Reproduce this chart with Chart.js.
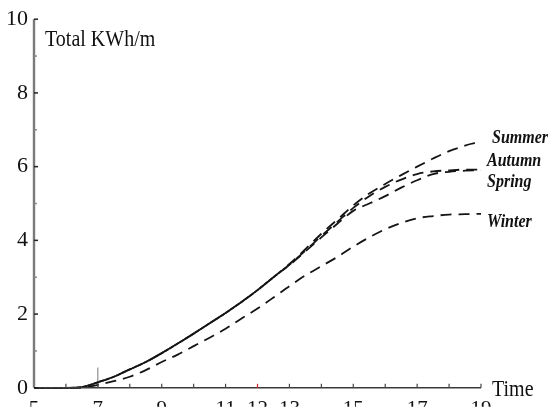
<!DOCTYPE html>
<html>
<head>
<meta charset="utf-8">
<script src="https://cdn.jsdelivr.net/npm/chart.js@4.4.1/dist/chart.umd.min.js"></script>
<style>
  html, body { margin: 0; padding: 0; background: #fff; }
  #wrap { width: 550px; height: 407px; position: relative; }
</style>
</head>
<body>
<div id="wrap"><canvas id="c" width="550" height="407"></canvas></div>
<script>
// ---- data ----
const hours = [5, 5.5, 6, 6.5, 7, 7.5, 8, 8.5, 9, 9.5, 10, 10.5, 11, 11.5, 12, 12.5, 13,
               13.5, 14, 14.5, 15, 15.5, 16, 16.5, 17, 17.5, 18, 18.5, 19];
const summer = [0, 0, 0, 0.02, 0.15, 0.3, 0.5, 0.7, 0.94, 1.2, 1.47, 1.75, 2.03, 2.33, 2.65, 3.0, 3.36,
                3.76, 4.18, 4.56, 4.95, 5.27, 5.53, 5.77, 6.0, 6.22, 6.42, 6.57, 6.7];
const autumn = [0, 0, 0, 0.02, 0.15, 0.3, 0.5, 0.7, 0.94, 1.2, 1.47, 1.75, 2.03, 2.33, 2.65, 3.0, 3.34,
                3.72, 4.12, 4.5, 4.88, 5.2, 5.45, 5.65, 5.8, 5.87, 5.9, 5.92, 5.92];
const spring = [0, 0, 0, 0.02, 0.15, 0.3, 0.5, 0.7, 0.94, 1.2, 1.47, 1.75, 2.03, 2.33, 2.65, 3.0, 3.33,
                3.7, 4.08, 4.45, 4.8, 5.0, 5.2, 5.43, 5.63, 5.8, 5.86, 5.89, 5.9];
const winter = [0, 0, 0, 0, 0.08, 0.18, 0.3, 0.48, 0.7, 0.9, 1.13, 1.36, 1.6, 1.88, 2.15, 2.45, 2.76,
                3.05, 3.3, 3.55, 3.83, 4.08, 4.3, 4.47, 4.6, 4.66, 4.7, 4.71, 4.72];
const summerTail = { x: 19.2, y: 6.78 };
const markerHours = [7, 7];
const markerValues = [0, 0.55];
const seriesNames = ['Summer', 'Autumn', 'Spring', 'Winter'];
const xTickLabels = [5, 7, 9, 11, 12, 13, 15, 17, 19];
const yTickLabels = [0, 2, 4, 6, 8, 10];
const yAxisTitle = 'Total KWh/m';
const xAxisTitle = 'Time';

const toPts = (xs, ys) => xs.map((x, i) => ({ x: x, y: ys[i] }));

const dash = [11, 7];
function ds(label, pts, offset) {
  return {
    label: label,
    data: pts,
    borderColor: '#151515',
    borderWidth: 1.8,
    borderDash: dash,
    borderDashOffset: offset,
    pointRadius: 0,
    fill: false,
    cubicInterpolationMode: 'monotone',
    clip: false
  };
}

const datasets = [
  ds(seriesNames[0], toPts(hours, summer).concat([summerTail]), 0),
  ds(seriesNames[1], toPts(hours, autumn), 6),
  ds(seriesNames[2], toPts(hours, spring), 12),
  ds(seriesNames[3], toPts(hours, winter), 0),
  {
    label: 'marker',
    data: toPts(markerHours, markerValues),
    borderColor: '#777',
    borderWidth: 1,
    pointRadius: 0,
    fill: false
  }
];

// label offsets (pixels) from each series end point
const labelOffsets = [[11, -3], [6, -8], [6, 12], [6, 8]];
const labelEndValues = [summer[summer.length - 1], autumn[autumn.length - 1], spring[spring.length - 1], winter[winter.length - 1]];

const axesPlugin = {
  id: 'axesPlugin',
  afterDatasetsDraw(chart) {
    const ctx = chart.ctx;
    const xs = chart.scales.x, ys = chart.scales.y;
    const x0 = xs.getPixelForValue(5), x1 = xs.getPixelForValue(19);
    const y0 = ys.getPixelForValue(0), y1 = ys.getPixelForValue(10);
    ctx.save();
    // y axis
    ctx.strokeStyle = '#7a7a7a';
    ctx.lineWidth = 2.4;
    ctx.beginPath(); ctx.moveTo(x0, y1); ctx.lineTo(x0, y0); ctx.stroke();
    // x axis
    ctx.strokeStyle = '#3a3a3a';
    ctx.lineWidth = 1.5;
    ctx.beginPath(); ctx.moveTo(x0, y0); ctx.lineTo(x1, y0); ctx.stroke();
    // y ticks
    for (let v = 0; v <= 10; v++) {
      const y = ys.getPixelForValue(v);
      ctx.strokeStyle = v % 2 === 0 ? '#222' : '#888';
      ctx.lineWidth = 1.5;
      ctx.beginPath(); ctx.moveTo(x0, y); ctx.lineTo(x0 + (v % 2 === 0 ? 4 : 3), y); ctx.stroke();
    }
    // x ticks
    for (let h = 6; h <= 19; h++) {
      const x = xs.getPixelForValue(h);
      ctx.strokeStyle = h === 12 ? '#d22' : '#444';
      ctx.lineWidth = 1.2;
      ctx.beginPath(); ctx.moveTo(x, y0); ctx.lineTo(x, y0 - 4); ctx.stroke();
    }
    // titles
    ctx.fillStyle = '#111';
    ctx.textBaseline = 'alphabetic';
    ctx.textAlign = 'left';
    ctx.save();
    ctx.translate(x0 + 11, 46);
    ctx.scale(1, 1.15);
    ctx.font = '20px "Liberation Serif", "Times New Roman", serif';
    ctx.fillText(yAxisTitle, 0, 0);
    ctx.restore();
    ctx.save();
    ctx.translate(x1 + 11, 396);
    ctx.scale(1, 1.15);
    ctx.font = '20px "Liberation Serif", "Times New Roman", serif';
    ctx.fillText(xAxisTitle, 0, 0);
    ctx.restore();
    // series labels
    ctx.font = 'italic bold 16px "Liberation Serif", "Times New Roman", serif';
    ctx.textBaseline = 'middle';
    for (let i = 0; i < seriesNames.length; i++) {
      const px = xs.getPixelForValue(19) + labelOffsets[i][0];
      const py = ys.getPixelForValue(labelEndValues[i]) + labelOffsets[i][1];
      ctx.save();
      ctx.translate(px, py);
      ctx.scale(1, 1.15);
      ctx.fillText(seriesNames[i], 0, 0);
      ctx.restore();
    }
    ctx.restore();
  }
};

new Chart(document.getElementById('c'), {
  type: 'line',
  data: { datasets: datasets },
  plugins: [axesPlugin],
  options: {
    responsive: false,
    animation: false,
    layout: { padding: { left: 0, top: 15, right: 69, bottom: 0 } },
    plugins: { legend: { display: false }, tooltip: { enabled: false } },
    scales: {
      x: {
        type: 'linear',
        min: 5, max: 19,
        grid: { display: false, drawTicks: false },
        border: { display: false },
        afterFit(s) { s.height = 19; },
        ticks: {
          stepSize: 1,
          autoSkip: false,
          maxRotation: 0,
          padding: 9,
          color: '#111',
          font: { family: '"Liberation Serif", "Times New Roman", serif', size: 21 },
          callback: (v) => xTickLabels.includes(v) ? String(v) : ''
        }
      },
      y: {
        min: 0, max: 10,
        grid: { display: false, drawTicks: false },
        border: { display: false },
        afterFit(s) { s.width = 34; },
        ticks: {
          stepSize: 2,
          padding: 6,
          color: '#111',
          font: { family: '"Liberation Serif", "Times New Roman", serif', size: 22 },
          callback: (v) => yTickLabels.includes(v) ? String(v) : ''
        }
      }
    }
  }
});
</script>
</body>
</html>
